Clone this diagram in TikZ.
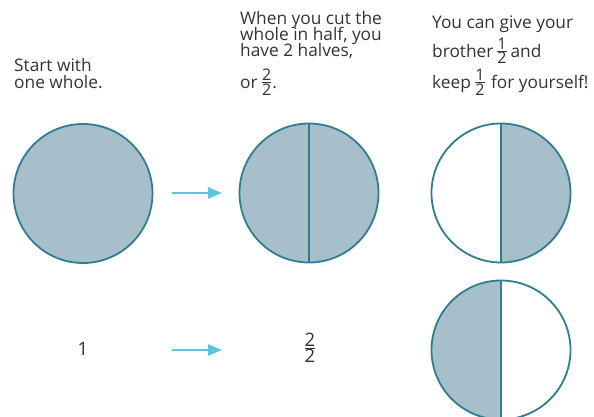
\documentclass[tikz,border=0pt]{standalone}
\usepackage{fontspec}
\setmainfont{Open Sans}
\usetikzlibrary{arrows.meta}
\definecolor{fillc}{HTML}{A7BFCB}
\definecolor{linec}{HTML}{2F7E8F}
\definecolor{arrc}{HTML}{5BC4DE}
\definecolor{txt}{HTML}{333333}
% #1 font size, #2 numerator, #3 denominator, #4 lowering of the denominator baseline
\newcommand\fr[4]{\lower#4\vbox{\fontsize{#1}{#1}\selectfont\offinterlineskip
  \halign{\hfil##\hfil\cr #2\cr\noalign{\kern1.3pt\hrule height 0.6pt\kern1.3pt}#3\cr}}}
\begin{document}
\begin{tikzpicture}[x=1pt,y=-1pt,
  txtline/.style={anchor=base west, inner sep=0pt, text=txt, font=\fontsize{17.3}{17}\selectfont},
  disc/.style={circle, minimum size=139pt, inner sep=0pt, draw=linec, line width=1.8pt},
  cut/.style={draw=linec, line width=1.8pt},
  arr/.style={draw=arrc, line width=2.5pt, -{Triangle[length=14pt,width=11pt]}}]
\useasboundingbox (0,0) rectangle (594,417);
\clip (0,0) rectangle (594,417);
% circle 1
\fill[fillc] (83,193.5) circle (69.5);
\node[disc] (c1) at (83,193.5) {};
% circle 2
\fill[fillc] (309,193) circle (69.5);
\node[disc] (c2) at (309,193) {};
\draw[cut] (c2.north) -- (c2.south);
% circle 3 (right half shaded)
\begin{scope}
  \clip (501,100) rectangle (600,300);
  \fill[fillc] (501,193) circle (69.5);
\end{scope}
\node[disc] (c3) at (501,193) {};
\draw[cut] (c3.north) -- (c3.south);
% circle 4 (left half shaded)
\begin{scope}
  \clip (400,250) rectangle (501,430);
  \fill[fillc] (501,350) circle (69.5);
\end{scope}
\node[disc] (c4) at (501,350) {};
\draw[cut] (c4.north) -- (c4.south);
% arrows
\coordinate (a1s) at (171.5,193);
\coordinate (a1e) at (222,193);
\draw[arr] (a1s) -- (a1e);
\coordinate (a2s) at (171.5,350);
\coordinate (a2e) at (222,350);
\draw[arr] (a2s) -- (a2e);
% texts
\node[txtline] (t1a) at (14,72) {Start with};
\node[txtline] (t1b) at (14,89) {one whole.};
\node[txtline] (t2a) at (240,25) {When you cut the};
\node[txtline] (t2b) at (240,41) {whole in half, you};
\node[txtline] (t2c) at (240,57) {have 2 halves,};
\node[txtline] (t2d) at (240,89) {or \fr{16}{2}{2}{6pt}\kern1pt.};
\node[txtline] (t3a) at (432,29) {You can give your};
\node[txtline] (t3b) at (432,58) {brother\kern4pt\fr{16}{1}{2}{6pt}\kern4pt and};
\node[txtline] (t3c) at (432,89) {keep \fr{16}{1}{2}{6pt}\kern2pt{} for yourself!};
\node[inner sep=0pt, text=txt, font=\fontsize{18.5}{18}\selectfont] (n1) at (83,349) {1};
\node[inner sep=0pt, text=txt] (n2) at (310,348) {\fr{18.5}{2}{2}{0pt}};
\end{tikzpicture}
\end{document}
